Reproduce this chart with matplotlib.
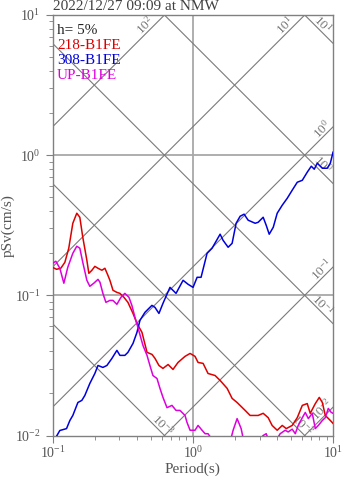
import numpy as np
import matplotlib
matplotlib.use('Agg')
import matplotlib.pyplot as plt
from matplotlib.ticker import LogLocator, NullFormatter

plt.rcParams['font.family'] = 'Liberation Serif'
plt.rcParams['mathtext.fontset'] = 'custom'
plt.rcParams['mathtext.rm'] = 'Liberation Serif'
plt.rcParams['mathtext.it'] = 'Liberation Serif:italic'

title = '2022/12/27 09:09 at NMW'
damping = 'h= 5%'
names = ['218-B1FE', '308-B1FE', 'UP-B1FE']
colors = ['#dd0000', '#0000dd', '#dd00dd']

# pseudo velocity response spectra, period (s) / pSv (cm/s)
t_218 = [0.1, 0.1068, 0.1146, 0.1225, 0.1306, 0.1396, 0.149, 0.1566, 0.1644, 0.1758,
         0.1816, 0.191, 0.2004, 0.211, 0.225, 0.2364, 0.2483, 0.2566, 0.27, 0.2878,
         0.3025, 0.323, 0.345, 0.375, 0.400, 0.4345, 0.449, 0.472, 0.512, 0.538,
         0.574, 0.613, 0.667, 0.723, 0.785, 0.881, 0.957, 1.038, 1.091, 1.185,
         1.285, 1.442, 1.567, 1.758, 1.908, 2.071, 2.364, 2.565, 2.925, 3.177,
         3.45, 3.68, 4.0, 4.345, 4.64, 5.117, 5.56, 6.04, 6.55, 6.88,
         7.48, 7.98, 8.39, 8.81, 9.57, 10.0]
sv_218 = [0.1585, 0.1534, 0.156, 0.172, 0.2168, 0.3268, 0.3854, 0.3606, 0.2597, 0.1778,
          0.1436, 0.151, 0.161, 0.156, 0.151, 0.156, 0.139, 0.128, 0.1086, 0.105,
          0.1033, 0.0968, 0.0891, 0.0743, 0.0631, 0.0544, 0.0477, 0.0392, 0.0379, 0.0355,
          0.0316, 0.0301, 0.0321, 0.0296, 0.0332, 0.0367, 0.0385, 0.0367, 0.0332, 0.0327,
          0.0277, 0.0268, 0.0247, 0.0217, 0.0184, 0.0172, 0.0151, 0.0139, 0.0139, 0.0144,
          0.0134, 0.0118, 0.0109, 0.0118, 0.0112, 0.0118, 0.0134, 0.0164, 0.0169, 0.0144,
          0.0169, 0.0187, 0.0172, 0.0139, 0.0128, 0.0122]

t_308 = [0.1, 0.1056, 0.1128, 0.1259, 0.133, 0.1396, 0.1517, 0.1618, 0.170, 0.1845,
         0.2004, 0.211, 0.2287, 0.2443, 0.2653, 0.2878, 0.3025, 0.328, 0.345, 0.375,
         0.400, 0.4204, 0.456, 0.5116, 0.538, 0.574, 0.6134, 0.688, 0.760, 0.853,
         0.925, 1.005, 1.074, 1.146, 1.265, 1.373, 1.567, 1.645, 1.787, 1.908,
         2.038, 2.177, 2.323, 2.483, 2.786, 2.925, 3.177, 3.34, 3.508, 3.75,
         4.0, 4.345, 4.72, 5.117, 5.56, 6.04, 6.55, 7.0, 7.35, 7.72,
         8.39, 9.1, 9.57, 10.0]
sv_308 = [0.0090, 0.00968, 0.01086, 0.0112, 0.0128, 0.0139, 0.0172, 0.0178, 0.0193, 0.0235,
          0.0277, 0.0316, 0.0306, 0.0316, 0.0355, 0.0405, 0.0373, 0.0373, 0.0392, 0.0454,
          0.0544, 0.0663, 0.0756, 0.0848, 0.082, 0.0743, 0.0877, 0.114, 0.1033, 0.128,
          0.12, 0.114, 0.1345, 0.1345, 0.1995, 0.2168, 0.273, 0.247, 0.2203, 0.235,
          0.3268, 0.3667, 0.3793, 0.3436, 0.3268, 0.332, 0.3606, 0.316, 0.273, 0.306,
          0.3854, 0.4395, 0.4932, 0.5623, 0.641, 0.662, 0.756, 0.834, 0.794, 0.877,
          0.807, 0.807, 0.877, 1.05]

t_up = [0.1, 0.1056, 0.1128, 0.1205, 0.1285, 0.1396, 0.149, 0.1566, 0.1644, 0.1758,
        0.1845, 0.197, 0.211, 0.218, 0.2287, 0.2404, 0.2566, 0.27, 0.2878, 0.3076,
        0.328, 0.3508, 0.368, 0.3873, 0.4066, 0.4273, 0.4416, 0.472, 0.495, 0.52,
        0.556, 0.5837, 0.6134, 0.6551, 0.711, 0.760, 0.811, 0.881, 0.910, 0.957,
        1.038, 1.091, 1.165, 1.224, 1.285, 1.33, 1.443, 1.70, 1.846, 1.94,
        2.071, 2.213, 2.285, 2.565, 2.925, 3.177, 3.34, 3.508, 3.87, 4.2,
        4.56, 4.79, 5.117, 5.38, 5.65, 6.04, 6.34, 6.67, 7.11, 7.48,
        7.86, 8.39, 8.81, 9.25, 9.72, 10.0]
sv_up = [0.169, 0.175, 0.156, 0.122, 0.1585, 0.1995, 0.224, 0.2168, 0.172, 0.128,
         0.116, 0.122, 0.130, 0.124, 0.1033, 0.0891, 0.092, 0.092, 0.0863, 0.0968,
         0.1033, 0.0968, 0.0848, 0.0697, 0.059, 0.0493, 0.0439, 0.0373, 0.0316, 0.0268,
         0.0255, 0.0217, 0.0187, 0.0158, 0.0164, 0.0151, 0.0151, 0.0139, 0.0124, 0.0109,
         0.0109, 0.0118, 0.0109, 0.0103, 0.0103, 0.0098, 0.0085, 0.0085, 0.009, 0.0109,
         0.0132, 0.0112, 0.0096, 0.0085, 0.009, 0.0100, 0.0103, 0.009, 0.009, 0.0103,
         0.0109, 0.0106, 0.0111, 0.0103, 0.0118, 0.0134, 0.0146, 0.0132, 0.0144, 0.0112,
         0.0118, 0.0128, 0.0134, 0.0156, 0.0146, 0.0144]

# tripartite grid levels (log10): acceleration (cm/s^2) and displacement (cm)
sa_levels = [2, 1, 0, -1, -2]
sd_levels = [1, 0, -1, -2, -3]

t_min, t_max = 0.1, 10.0
v_min, v_max = 0.01, 10.0

fig = plt.figure(figsize=(3.47, 4.78), dpi=100)
ax = fig.add_axes([0.1513, 0.0889, 0.8084, 0.8797])
ax.set_xscale('log')
ax.set_yscale('log')
ax.set_xlim(t_min, t_max)
ax.set_ylim(v_min, v_max)

grid_c = '#a8a8a8'
diag_c = '#7a7a7a'
text_c = '#555555'

ax.axvline(1.0, color=grid_c, lw=1.3, zorder=1)
for v in [0.1, 1.0]:
    ax.axhline(v, color=grid_c, lw=1.3, zorder=1)

tt = np.logspace(-1.5, 1.5, 50)
w = 2 * np.pi
h = 10.6   # half size of a rotated label, pixels
n2 = 8.5   # shift off the line, pixels

for k in sa_levels:
    sa = 10.0 ** k
    ax.plot(tt, sa * tt / w, color=diag_c, lw=0.8, zorder=2)
    v_end = sa * t_max / w
    if v_end > v_max:
        xy = (w * v_max / sa, v_max)
        off = (-h - n2, -h)
    else:
        xy = (t_max, v_end)
        off = (-h, -h + n2)
    ax.annotate('$10^{%d}$' % k, xy=xy, xytext=off, textcoords='offset pixels',
                ha='center', va='center', rotation=45, rotation_mode='anchor',
                fontsize=9.5, color='#777777', zorder=3)

for k in sd_levels:
    sd = 10.0 ** k
    ax.plot(tt, w * sd / tt, color=diag_c, lw=0.8, zorder=2)
    v_end = w * sd / t_max
    if v_end >= v_min:
        xy = (t_max, v_end)
        off = (-h, h + n2)
    else:
        xy = (w * sd / v_min, v_min)
        off = (-h + n2, h)
    ax.annotate('$10^{%d}$' % k, xy=xy, xytext=off, textcoords='offset pixels',
                ha='center', va='center', rotation=-45, rotation_mode='anchor',
                fontsize=9.5, color='#777777', zorder=3)

for t, sv, c in zip([t_218, t_308, t_up], [sv_218, sv_308, sv_up], colors):
    ax.plot(t, sv, color=c, lw=1.1, zorder=4)

# damping and component names in the upper left corner
ax.text(0.016, 0.955, damping, transform=ax.transAxes, fontsize=11,
        color='#222222', va='baseline')
for i, (nm, c) in enumerate(zip(names, colors)):
    ax.text(0.016, 0.955 - 0.0357 * (i + 1), nm, transform=ax.transAxes,
            fontsize=11, color=c, va='baseline')

for s in ax.spines.values():
    s.set_color('#808080')
    s.set_linewidth(1.0)

ax.xaxis.set_major_locator(LogLocator(base=10, numticks=10))
ax.yaxis.set_major_locator(LogLocator(base=10, numticks=10))
ax.xaxis.set_minor_locator(LogLocator(base=10, subs=np.arange(2, 10), numticks=10))
ax.yaxis.set_minor_locator(LogLocator(base=10, subs=np.arange(2, 10), numticks=10))
ax.xaxis.set_minor_formatter(NullFormatter())
ax.yaxis.set_minor_formatter(NullFormatter())
ax.tick_params(which='both', direction='out', color='#808080', labelcolor=text_c,
               labelsize=10)
ax.tick_params(which='major', length=5)
ax.tick_params(which='minor', length=3)
ax.tick_params(axis='x', pad=2)

ax.set_xlabel('Period(s)', fontsize=11, color=text_c)
ax.xaxis.set_label_coords(0.5, -0.064)
ax.set_ylabel('pSv(cm/s)', fontsize=11, color=text_c)
ax.yaxis.set_label_coords(-0.135, 0.5)

fig.text(53 / 347, 1 - 10.5 / 478, title, ha='left', va='baseline',
         fontsize=11, color='#404040')

fig.savefig('out.png', dpi=100)
